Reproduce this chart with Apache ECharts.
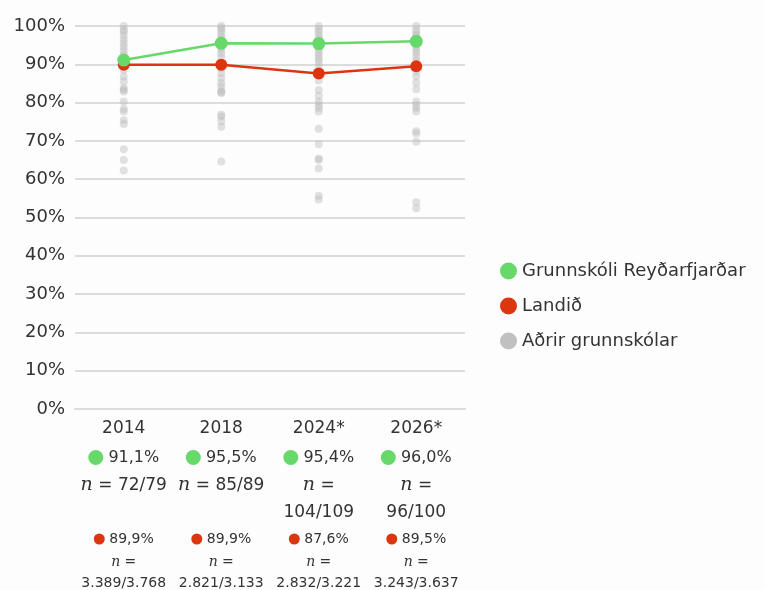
<!DOCTYPE html>
<html>
<head>
<meta charset="utf-8">
<script src="https://cdn.jsdelivr.net/npm/echarts@6/dist/echarts.min.js"></script>
<style>
  html, body { margin: 0; padding: 0; background: #fdfdfd; }
  #chart { width: 764px; height: 590px; }
</style>
</head>
<body>
<div id="chart"></div>
<script>
var years = ['2014', '2018', '2024*', '2026*']
var schoolValues = [91.1, 95.5, 95.4, 96.0]
var schoolN = ['72/79', '85/89', '104/109', '96/100']
var nationValues = [89.9, 89.9, 87.6, 89.5]
var nationN = ['3.389/3.768', '2.821/3.133', '2.832/3.221', '3.243/3.637']
// aðrir grunnskólar, lesið af myndinni
var others2014 = [100, 99, 98.5, 97.5, 96.5, 95.5, 94.5, 93.5, 92.5, 91.5, 90.5, 88.5, 86.8, 85.5, 83.8, 83.3, 82.9, 80.3, 78.3, 77.7, 75.4, 74.4, 67.8, 65, 62.3]
var others2018 = [100, 99.5, 98.8, 98, 97.2, 96.5, 95, 94.6, 93.8, 92.8, 91.8, 88.9, 87.7, 86.4, 85.1, 84.2, 83.1, 82.7, 82.5, 76.8, 76.4, 75.1, 73.7, 64.6]
var others2024 = [100, 99.2, 98.5, 97.6, 96.8, 94.6, 93.8, 93, 92.2, 91.4, 90.6, 89.4, 85.8, 83.3, 81.8, 80.3, 79.4, 78.6, 77.7, 73.2, 69.1, 65.4, 65, 62.8, 55.7, 54.7]
var others2026 = [100, 98.9, 98.2, 97.5, 96.7, 95.4, 94.6, 93.8, 93, 92, 91, 88.1, 86.8, 85.2, 83.5, 80.3, 79.4, 78.6, 77.7, 72.5, 71.9, 69.8, 54, 52.4]

var othersData = []
;[others2014, others2018, others2024, others2026].forEach(function (arr, i) {
  arr.forEach(function (v) { othersData.push([i, v]) })
})

function pct (v) {
  return v.toFixed(1).replace('.', ',') + '%'
}

var font = 'DejaVu Sans'
var myChart = echarts.init(document.getElementById('chart'))
var option = {
  backgroundColor: '#fdfdfd',
  textStyle: { fontFamily: font },
  grid: { left: 75, right: 299, top: 26, bottom: 171 },
  legend: {
    orient: 'vertical',
    left: 495,
    top: 257,
    itemGap: 17,
    icon: 'circle',
    itemWidth: 17,
    itemHeight: 17,
    textStyle: { fontSize: 18, color: '#333', fontFamily: font },
    data: [
      { name: 'Grunnskóli Reyðarfjarðar' },
      { name: 'Landið' },
      { name: 'Aðrir grunnskólar', itemStyle: { opacity: 1, color: '#c0c0c0' } }
    ]
  },
  xAxis: {
    type: 'category',
    data: years,
    axisLine: { lineStyle: { color: '#dcdcdc', width: 2 } },
    axisTick: { show: false },
    axisLabel: {
      interval: 0,
      margin: 6,
      formatter: function (value, idx) {
        var gn = 'n = ' + schoolN[idx]
        var gnLines
        if (gn.length > 9) {
          gnLines = '{it|n}{gn| =}\n{gn|' + schoolN[idx] + '}'
        } else {
          gnLines = '{it|n}{gn| = ' + schoolN[idx] + '}\n{gn| }'
        }
        return '{year|' + value + '}\n' +
          '{gdot|}{g| ' + pct(schoolValues[idx]) + '}\n' +
          gnLines + '\n' +
          '{rdot|}{r| ' + pct(nationValues[idx]) + '}\n' +
          '{rit|n}{rn| =}\n' +
          '{rn|' + nationN[idx] + '}'
      },
      rich: {
        year: { fontSize: 17, color: '#333', lineHeight: 28 },
        g: { fontSize: 16, color: '#333', lineHeight: 29 },
        gdot: { width: 15, height: 15, borderRadius: 8, backgroundColor: '#66d96a' },
        it: { fontSize: 19, color: '#333', fontStyle: 'italic', fontFamily: 'DejaVu Serif', lineHeight: 27 },
        gn: { fontSize: 17, color: '#333', lineHeight: 27 },
        r: { fontSize: 14, color: '#333', lineHeight: 26 },
        rdot: { width: 11, height: 11, borderRadius: 6, backgroundColor: '#dd3510' },
        rit: { fontSize: 14, color: '#333', fontStyle: 'italic', fontFamily: 'DejaVu Serif', lineHeight: 21 },
        rn: { fontSize: 14, color: '#333', lineHeight: 20 }
      }
    }
  },
  yAxis: {
    type: 'value',
    min: 0,
    max: 100,
    interval: 10,
    axisLine: { show: false },
    axisTick: { show: false },
    axisLabel: { formatter: '{value}%', fontSize: 18, color: '#333', margin: 10 },
    splitLine: { lineStyle: { color: '#dcdcdc', width: 2 } }
  },
  series: [
    {
      name: 'Aðrir grunnskólar',
      type: 'scatter',
      data: othersData,
      symbolSize: 8,
      z: 1,
      itemStyle: { color: '#bdbdbd', opacity: 0.45 }
    },
    {
      name: 'Landið',
      type: 'line',
      data: nationValues,
      symbol: 'circle',
      symbolSize: 12,
      z: 3,
      lineStyle: { color: '#dd3510', width: 2.5 },
      itemStyle: { color: '#dd3510' }
    },
    {
      name: 'Grunnskóli Reyðarfjarðar',
      type: 'line',
      data: schoolValues,
      symbol: 'circle',
      symbolSize: 13,
      z: 4,
      lineStyle: { color: '#66d96a', width: 2.5 },
      itemStyle: { color: '#66d96a' }
    }
  ]
}
myChart.setOption(option)
</script>
</body>
</html>
